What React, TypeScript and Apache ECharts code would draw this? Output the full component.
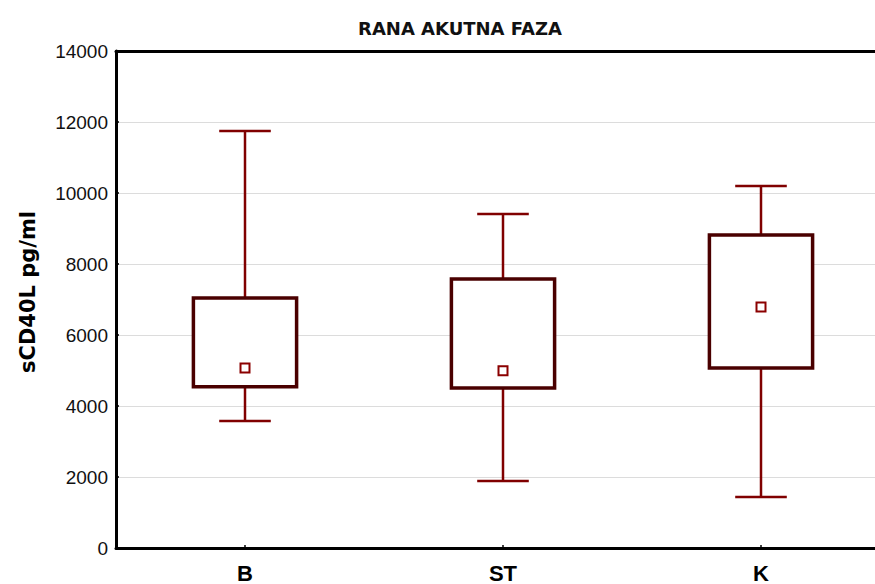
import React, { useEffect, useRef } from "react";
import * as echarts from "echarts";

const categories = ["B", "ST", "K"];
// [min whisker, box bottom, box top, max whisker]
const whiskerLow = [3580, 1890, 1440];
const boxLow = [4540, 4510, 5070];
const boxHigh = [7040, 7580, 8820];
const whiskerHigh = [11750, 9410, 10200];
const centerMarks = [5070, 4990, 6790];
const yTicks = [0, 2000, 4000, 6000, 8000, 10000, 12000, 14000];

export default function App() {
  const ref = useRef<HTMLDivElement>(null);
  useEffect(() => {
    if (!ref.current) return;
    const chart = echarts.init(ref.current, undefined, { renderer: "svg" });
    const boxData = categories.map((_, i) => [i, whiskerLow[i], boxLow[i], boxHigh[i], whiskerHigh[i]]);
    chart.setOption({
      animation: false,
      title: {
        text: "RANA AKUTNA FAZA",
        left: 455,
        textAlign: "center",
        top: 14,
        textStyle: { fontFamily: "DejaVu Sans", fontWeight: "bold", fontSize: 18, color: "#111" },
      },
      graphic: [
        {
          type: "text",
          x: 28,
          y: 292,
          rotation: Math.PI / 2,
          style: {
            text: "sCD40L pg/ml",
            fontFamily: "DejaVu Sans",
            fontWeight: "bold",
            fontSize: 21,
            fill: "#000",
            textAlign: "center",
            textVerticalAlign: "middle",
          },
        },
      ],
      grid: { left: 116, top: 51, width: 774, height: 497, outerBoundsMode: "none", containLabel: false },
      xAxis: [
        {
          type: "category",
          data: categories,
          boundaryGap: true,
          axisLine: { lineStyle: { color: "#000", width: 3 } },
          axisTick: { show: true, inside: true, alignWithLabel: true, length: 3, lineStyle: { color: "#000", width: 1.5 } },
          axisLabel: { fontFamily: "Liberation Sans", fontWeight: "bold", fontSize: 22, color: "#000", margin: 14 },
          splitLine: { show: false },
        },
        {
          type: "category",
          data: categories,
          position: "top",
          axisLine: { lineStyle: { color: "#000", width: 3 } },
          axisTick: { show: false },
          axisLabel: { show: false },
          splitLine: { show: false },
        },
      ],
      yAxis: {
        type: "value",
        min: 0,
        max: 14000,
        interval: 2000,
        axisLine: { show: true, lineStyle: { color: "#000", width: 3 } },
        axisTick: { show: true, inside: true, length: 3, lineStyle: { color: "#000", width: 1.5 } },
        axisLabel: {
          fontFamily: "Liberation Sans",
          fontSize: 19,
          color: "#111",
          margin: 8,
          formatter: (v: number) => (yTicks.includes(v) ? String(v) : ""),
        },
        splitLine: { show: true, lineStyle: { color: "#dcdcdc", width: 1 } },
      },
      series: [
        {
          type: "custom",
          data: boxData,
          renderItem: (params: any, api: any) => {
            const idx = api.value(0);
            const lo = api.coord([idx, api.value(1)]);
            const q1 = api.coord([idx, api.value(2)]);
            const q3 = api.coord([idx, api.value(3)]);
            const hi = api.coord([idx, api.value(4)]);
            const bw = api.size([1, 0])[0] * 0.4;
            const cw = api.size([1, 0])[0] * 0.2;
            const x = lo[0];
            const wStyle = { stroke: "#800000", lineWidth: 2.5 };
            return {
              type: "group",
              children: [
                { type: "line", shape: { x1: x, y1: hi[1], x2: x, y2: q3[1] }, style: wStyle },
                { type: "line", shape: { x1: x, y1: q1[1], x2: x, y2: lo[1] }, style: wStyle },
                { type: "line", shape: { x1: x - cw / 2, y1: hi[1], x2: x + cw / 2, y2: hi[1] }, style: wStyle },
                { type: "line", shape: { x1: x - cw / 2, y1: lo[1], x2: x + cw / 2, y2: lo[1] }, style: wStyle },
                {
                  type: "rect",
                  shape: { x: x - bw / 2, y: q3[1], width: bw, height: q1[1] - q3[1] },
                  style: { fill: "#fff", stroke: "#4a0000", lineWidth: 3.5 },
                },
              ],
            };
          },
          z: 2,
        },
        {
          type: "scatter",
          data: centerMarks.map((v, i) => [i, v]),
          symbol: "rect",
          symbolSize: 9,
          itemStyle: { color: "#fff", borderColor: "#8b0000", borderWidth: 2, opacity: 1 },
          z: 3,
        },
      ],
    });
    return () => chart.dispose();
  }, []);
  return <div ref={ref} style={{ width: 875, height: 584, position: "absolute", left: 0, top: 0 }} />;
}
